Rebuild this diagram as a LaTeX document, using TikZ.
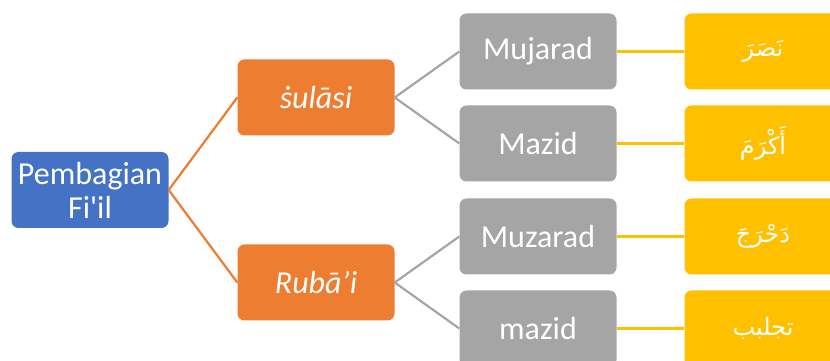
\documentclass[tikz,border=0pt]{standalone}
\usepackage{fontspec}
\setmainfont{Carlito}
\newfontfamily\arabicfont[Script=Arabic]{DejaVu Sans}
\TeXXeTstate=1
\definecolor{fiblue}{HTML}{4472C4}
\definecolor{fiorange}{HTML}{ED7D31}
\definecolor{figray}{HTML}{A5A5A5}
\definecolor{fiyellow}{HTML}{FFC000}
\tikzset{
  box/.style    = {shape=rectangle, rounded corners=7pt,
                   minimum width=157pt, minimum height=76pt,
                   align=center, text=white, inner sep=2pt,
                   font=\fontsize{32}{34}\selectfont},
  akar/.style   = {box, fill=fiblue},
  wazan/.style  = {box, fill=fiorange, font=\fontsize{32}{34}\selectfont\itshape},
  jenis/.style  = {box, fill=figray},
  contoh/.style = {box, fill=fiyellow, font=\arabicfont\fontsize{24}{28}\selectfont}
}
\begin{document}
\begin{tikzpicture}
 [grow'=right, parent anchor=east, child anchor=west,
  level 1/.style={level distance=226pt, sibling distance=185pt,
                  edge from parent/.style={draw=fiorange, line width=2.2pt}},
  level 2/.style={level distance=222pt, sibling distance=92pt,
                  edge from parent/.style={draw=figray, line width=2.2pt}},
  level 3/.style={level distance=225pt,
                  edge from parent/.style={draw=fiyellow, line width=2.5pt}}]

  \useasboundingbox (0,0) rectangle (830pt,361pt);
  \clip (0,0) rectangle (830pt,361pt);

  \node [akar] (fiil) at (90pt,171pt) {Pembagian\\Fi\textquotesingle il}
    child { node [wazan] (sulasi) {ṡulāsi}
      child { node [jenis] (mujarad) {Mujarad}
        child { node [contoh] (nasara) {\beginR نَصَرَ\endR} } }
      child { node [jenis] (mazid) {Mazid}
        child { node [contoh] (akrama) {\beginR أَكْرَمَ\endR} } } }
    child { node [wazan] (rubai) {Rubā’i}
      child { node [jenis] (muzarad) {Muzarad}
        child { node [contoh] (dahraja) {\beginR دَحْرَجَ\endR} } }
      child { node [jenis] (mazidb) {mazid}
        child { node [contoh] (tajalbaba) {\beginR تجلبب\endR} } } };
\end{tikzpicture}
\end{document}
